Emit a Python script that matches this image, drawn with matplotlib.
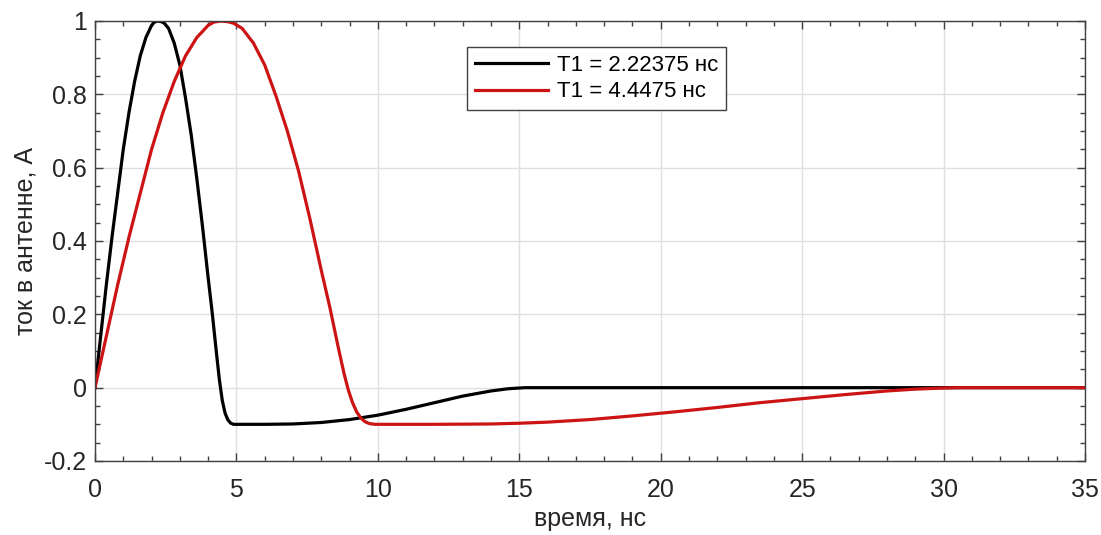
import matplotlib
matplotlib.use("Agg")
import matplotlib.pyplot as plt
from matplotlib.ticker import MultipleLocator

plt.rcParams['font.family'] = ['Liberation Sans', 'DejaVu Sans']

# time, ns
t_black = [0, 0.2, 0.4, 0.6, 0.8, 1.0, 1.2, 1.4, 1.6, 1.8, 2.0, 2.1, 2.22, 2.35, 2.45,
           2.6, 2.8, 3.0, 3.2, 3.4, 3.6, 3.8, 4.0, 4.15, 4.3, 4.4, 4.5, 4.6, 4.7, 4.8, 4.9,
           6.0, 7.0, 8.0, 9.0, 10.0, 11.0, 12.0, 13.0, 14.0, 14.6, 15.2, 35]
y_black = [0, 0.14, 0.28, 0.41, 0.53, 0.65, 0.75, 0.835, 0.905, 0.955, 0.988, 0.997, 1.0,
           0.998, 0.994, 0.98, 0.94, 0.88, 0.79, 0.69, 0.57, 0.44, 0.30, 0.20, 0.09, 0.02,
           -0.035, -0.07, -0.088, -0.097, -0.1,
           -0.1, -0.099, -0.095, -0.087, -0.075, -0.059, -0.041, -0.023, -0.009, -0.003, 0, 0]

t_red = [0, 0.4, 0.8, 1.2, 1.6, 2.0, 2.4, 2.8, 3.2, 3.6, 4.0, 4.2, 4.45, 4.7, 4.9, 5.2,
         5.6, 6.0, 6.4, 6.8, 7.2, 7.6, 8.0, 8.3, 8.6, 8.8, 8.95, 9.1, 9.25, 9.4, 9.55,
         9.7, 9.9, 12.0, 14.0, 15.0, 16.0, 17.5, 19.0, 20.5, 22.0, 23.5, 25.0, 26.5,
         28.0, 29.0, 30.0, 30.5, 35]
y_red = [0, 0.14, 0.28, 0.41, 0.53, 0.65, 0.75, 0.835, 0.905, 0.955, 0.988, 0.997, 1.0,
         0.998, 0.994, 0.98, 0.94, 0.88, 0.795, 0.70, 0.59, 0.46, 0.32, 0.22, 0.11, 0.04,
         -0.005, -0.04, -0.066, -0.083, -0.093, -0.098, -0.1, -0.1, -0.099, -0.097,
         -0.094, -0.087, -0.077, -0.066, -0.054, -0.041, -0.03, -0.019, -0.009, -0.004,
         -0.001, 0, 0]

labels = ["T1 = 2.22375 нс", "T1 = 4.4475 нс"]

fig = plt.figure(figsize=(11.01, 5.35), dpi=100)
ax = fig.add_axes([95/1101, 1-461/535, 990/1101, 440/535])

ax.plot(t_black, y_black, color='black', lw=2.3, label=labels[0])
ax.plot(t_red, y_red, color='#cc1414', lw=2.3, label=labels[1])

ax.set_xlim(0, 35)
ax.set_ylim(-0.2, 1)
ax.xaxis.set_major_locator(MultipleLocator(5))
ax.xaxis.set_minor_locator(MultipleLocator(1))
ax.yaxis.set_minor_locator(MultipleLocator(0.05))
yt = [-0.2, 0, 0.2, 0.4, 0.6, 0.8, 1.0]
ax.set_yticks(yt)
ax.set_yticklabels(['-0.2', '0', '0.2', '0.4', '0.6', '0.8', '1'])

ax.grid(True, which='major', color='#e0e0e0', lw=1.0)
ax.set_axisbelow(True)
for s in ax.spines.values():
    s.set_color('#404040')
    s.set_linewidth(1.0)
ax.tick_params(which='both', direction='in', top=True, right=True,
               colors='#404040', labelcolor='#262626', labelsize=18)
ax.tick_params(which='major', length=6, width=1)
ax.tick_params(which='minor', length=3.5, width=1)
ax.tick_params(axis='x', pad=12)
ax.tick_params(axis='y', pad=6)

ax.set_xlabel('время, нс', fontsize=18, color='#262626', labelpad=4)
ax.set_ylabel('ток в антенне, А', fontsize=18, color='#262626', labelpad=4)

leg = ax.legend(loc='upper left', bbox_to_anchor=(0.376, 0.941), fontsize=16,
                frameon=True, fancybox=False, framealpha=1, edgecolor='#404040',
                handlelength=3.3, borderpad=0.35, labelspacing=0.25, handletextpad=0.4,
                borderaxespad=0)
leg.get_frame().set_linewidth(1.0)

fig.savefig('out.png', dpi=100)
